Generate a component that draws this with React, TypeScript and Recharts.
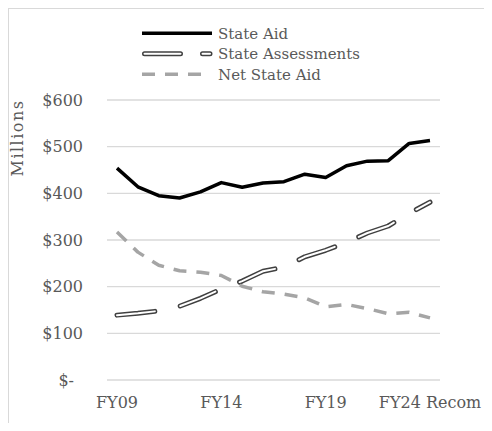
import React from "react";
import { LineChart, Line, XAxis, YAxis, CartesianGrid, Legend } from "recharts";

// fiscal years on the x axis
const years = [
  "FY09", "FY10", "FY11", "FY12", "FY13", "FY14", "FY15", "FY16",
  "FY17", "FY18", "FY19", "FY20", "FY21", "FY22", "FY23", "FY24 Recom",
];

// values in millions of dollars
const stateAid = [454, 414, 395, 390, 403, 423, 413, 422, 425, 441, 434, 459, 469, 470, 507, 513];
const stateAssessments = [139, 143, 148, 158, 175, 195, 212, 233, 242, 264, 278, 295, 315, 330, 357, 381];
const netStateAid = [317, 274, 246, 234, 231, 224, 201, 189, 184, 176, 157, 162, 153, 142, 145, 133];

const yTicks = [0, 100, 200, 300, 400, 500, 600];
const seriesNames = ["State Aid", "State Assessments", "Net State Aid"];

const data = years.map((name, i) => ({
  name,
  aid: stateAid[i],
  assess: stateAssessments[i],
  net: netStateAid[i],
}));

const FONT = "DejaVu Serif";
const TEXT = "#595959";

const YTick = (props: any) => {
  const { x, y, payload } = props;
  const v = payload.value;
  return (
    <text
      x={v === 0 ? x - 9 : x}
      y={y}
      dy="0.35em"
      textAnchor="end"
      fill={TEXT}
      fontSize={16}
      fontFamily={FONT}
    >
      {v === 0 ? "$-" : `$${v}`}
    </text>
  );
};

const XTick = (props: any) => {
  const { x, y, payload } = props;
  return (
    <text x={x} y={y} dy="0.71em" textAnchor="middle" fill={TEXT} fontSize={16} fontFamily={FONT}>
      {payload.value}
    </text>
  );
};

// legend drawn in svg so the serif font is used for the labels too
const LegendBox = () => (
  <svg width={240} height={62} style={{ display: "block" }}>
    {seriesNames.map((n, i) => {
      const cy = 10.25 + i * 20.5;
      return (
        <g key={n}>
          {i === 0 && <line x1={0} y1={cy} x2={70} y2={cy} stroke="#000" strokeWidth={3.5} />}
          {i === 1 && (
            <g>
              <line x1={2.5} y1={cy} x2={68} y2={cy} stroke="#404040" strokeWidth={5} strokeDasharray="36 22" strokeLinecap="round" />
              <line x1={2.5} y1={cy} x2={68} y2={cy} stroke="#fff" strokeWidth={2} strokeDasharray="36 22" strokeLinecap="round" />
            </g>
          )}
          {i === 2 && <line x1={0} y1={cy} x2={60} y2={cy} stroke="#a5a5a5" strokeWidth={3.5} strokeDasharray="13 10" />}
          <text x={76} y={cy} dy="0.35em" fill={TEXT} fontSize={15} fontFamily={FONT}>
            {n}
          </text>
        </g>
      );
    })}
  </svg>
);

export default function App() {
  return (
    <div
      style={{
        position: "relative",
        width: 483,
        height: 422,
        borderTop: "1px solid #d9d9d9",
        borderLeft: "1px solid #d9d9d9",
        marginBottom: -8,
        background: "#fff",
      }}
    >
      <div
        style={{
          position: "absolute",
          left: 8,
          top: 129,
          transform: "translate(-50%, -50%) rotate(-90deg)",
          whiteSpace: "nowrap",
          fontFamily: FONT,
          fontSize: 16,
          letterSpacing: 1.5,
          color: TEXT,
        }}
      >
        Millions
      </div>
      <LineChart width={483} height={422} data={data} margin={{ top: 91, right: 52, left: 0, bottom: 21 }}>
        <CartesianGrid horizontal vertical={false} stroke="#d9d9d9" strokeWidth={1.3} />
        <XAxis
          dataKey="name"
          interval={4}
          axisLine={false}
          tickLine={false}
          tickMargin={11}
          height={30}
          padding={{ left: 10, right: 10 }}
          tick={<XTick />}
        />
        <YAxis
          width={98}
          domain={[0, 600]}
          ticks={yTicks}
          axisLine={false}
          tickLine={false}
          tickMargin={18}
          tick={<YTick />}
        />
        <Legend
          layout="vertical"
          verticalAlign="middle"
          align="center"
          content={() => <LegendBox />}
          wrapperStyle={{ top: 14, left: 133, width: "auto" }}
        />
        <Line type="linear" dataKey="aid" name="State Aid" stroke="#000" strokeWidth={3.5} strokeLinejoin="round" dot={false} activeDot={false} isAnimationActive={false} />
        <Line type="linear" dataKey="assess" name="State Assessments" stroke="#404040" strokeWidth={5} strokeDasharray="38 26" strokeLinecap="round" strokeLinejoin="round" dot={false} activeDot={false} isAnimationActive={false} />
        <Line type="linear" dataKey="assess" name="State Assessments inner" legendType="none" stroke="#fff" strokeWidth={2} strokeDasharray="38 26" strokeLinecap="round" strokeLinejoin="round" dot={false} activeDot={false} isAnimationActive={false} />
        <Line type="linear" dataKey="net" name="Net State Aid" stroke="#a5a5a5" strokeWidth={3.5} strokeDasharray="13 10" strokeLinejoin="round" dot={false} activeDot={false} isAnimationActive={false} />
      </LineChart>
    </div>
  );
}
